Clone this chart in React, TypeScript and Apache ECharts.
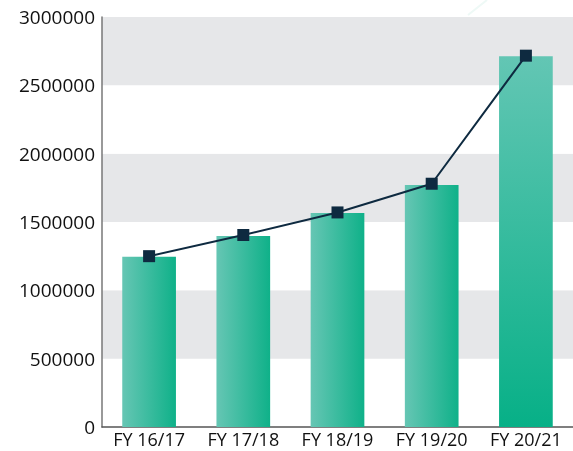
import React, { useEffect, useRef } from "react";
import * as echarts from "echarts";

const categories = ["FY 16/17", "FY 17/18", "FY 18/19", "FY 19/20", "FY 20/21"];
const barValues = [1245000, 1398000, 1566000, 1771000, 2713000];
const lineValues = [1250000, 1405000, 1570000, 1780000, 2717000];
const yTicks = { min: 0, max: 3000000, interval: 500000 };

export default function App() {
  const ref = useRef<HTMLDivElement>(null);
  useEffect(() => {
    if (!ref.current) return;
    const chart = echarts.init(ref.current, null, { renderer: "svg" });
    const hGrad = new echarts.graphic.LinearGradient(0, 0, 1, 0, [
      { offset: 0, color: "#66c6b4" },
      { offset: 1, color: "#0fb189" },
    ]);
    const vGrad = new echarts.graphic.LinearGradient(0, 0, 0, 1, [
      { offset: 0, color: "#63c6b4" },
      { offset: 1, color: "#07b087" },
    ]);
    const font = "'Open Sans', sans-serif";
    chart.setOption({
      animation: false,
      grid: { left: 102, right: 0, top: 17, bottom: 24, containLabel: false },
      xAxis: {
        type: "category",
        data: categories,
        axisTick: { show: false },
        axisLine: { lineStyle: { color: "#555", width: 1.5 } },
        axisLabel: {
          color: "#111",
          fontSize: 18,
          lineHeight: 18,
          fontFamily: font,
          margin: 3,
          interval: 0,
        },
      },
      yAxis: {
        type: "value",
        min: yTicks.min,
        max: yTicks.max,
        interval: yTicks.interval,
        axisLine: { show: true, lineStyle: { color: "#777", width: 1.5 } },
        axisTick: { show: false },
        splitLine: { show: false },
        splitArea: { show: true, areaStyle: { color: ["#ffffff", "#e6e7e9"] } },
        axisLabel: {
          color: "#111",
          fontSize: 19,
          fontFamily: font,
          margin: 7,
          formatter: (v: number) => String(v),
        },
      },
      graphic: [
        {
          type: "line",
          shape: { x1: 468, y1: 15, x2: 487, y2: 0 },
          style: { stroke: "#eef9f6", lineWidth: 2 },
          z: 0,
        },
      ],
      series: [
        {
          type: "bar",
          barWidth: "57%",
          data: barValues.map((v, i) => ({
            value: v,
            itemStyle: { color: i === barValues.length - 1 ? vGrad : hGrad },
          })),
        },
        {
          type: "line",
          data: lineValues,
          symbol: "rect",
          symbolSize: 12,
          lineStyle: { color: "#0e2a40", width: 2 },
          itemStyle: { color: "#0e2a40" },
          z: 5,
        },
      ],
    });
    return () => chart.dispose();
  }, []);
  return (
    <div
      ref={ref}
      style={{ position: "fixed", left: 0, top: 0, width: 573, height: 451 }}
    />
  );
}
